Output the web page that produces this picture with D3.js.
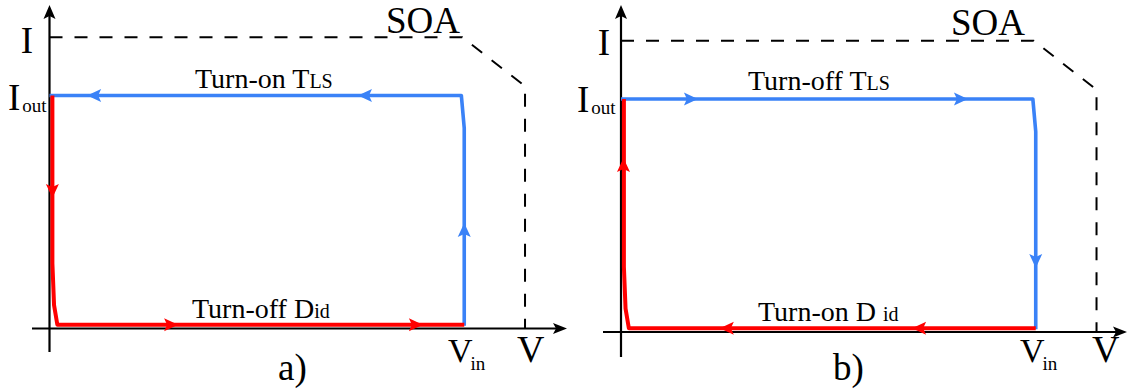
<!DOCTYPE html>
<html>
<head>
<meta charset="utf-8">
<script src="https://cdn.jsdelivr.net/npm/d3@7"></script>
<style>
  html, body { margin: 0; padding: 0; background: #fff; }
  svg { display: block; }
  text { font-family: "Liberation Serif", "DejaVu Serif", "Noto Serif", serif; fill: #000; }
</style>
</head>
<body>
<svg id="chart" width="1129" height="390"></svg>
<script>
// ---------------- data (normalised units: V_in = 100, I_out = 100) ----------------
const panelNames = ["a)", "b)"];
const vTicks = ["V_in", "V"];
const vTickValues = [100, 115];
const iTicks = ["I_out", "I"];
const iTickValues = [100, 125];

// SOA boundary
const soaV = [0, 99.8, 115, 115];
const soaI = [125, 125, 104, 0];

// transistor (blue) locus
const blueV = [0, 99.6, 100.3, 100.3];
const blueI = [100, 100, 86, 1.2];

// diode (red) locus
const redV = [0.7, 0.7, 1.1, 1.9, 100.3];
const redI = [100, 28, 10, 1.6, 1.6];

// arrows on the loci: [series, v, i, direction]
const arrowsA = [
  ["blue", 9.1, 100, "left"], ["blue", 74.6, 100, "left"], ["blue", 100.3, 45.3, "up"],
  ["red", 0.7, 56, "down"], ["red", 31.1, 1.6, "right"], ["red", 90.3, 1.6, "right"]
];
const arrowsB = [
  ["blue", 18.6, 100, "right"], ["blue", 83.9, 100, "right"], ["blue", 100.3, 27.5, "down"],
  ["red", 0.6, 74.7, "up"], ["red", 23.9, 1.6, "left"], ["red", 70.4, 1.6, "left"]
];
const topLabels = [["Turn-on T", "LS"], ["Turn-off T", "LS"]];
const bottomLabels = [["Turn-off D", "id"], ["Turn-on D ", "id"]];

// ---------------- layout ----------------
const COLORS = { blue: "#3a82f7", red: "#ff0000" };
const layout = [
  { ox: 49.5, oy: 328.5, xEnd: 567, xStart: 32, yTop: 5, yBot: 352,
    iLab: [33, 53], ioutLab: [8, 110], topLab: [195, 88], soaLab: [386, 33],
    botLab: [192, 318], vinLab: [448, 362], vLab: [517, 362], name: [278, 380] },
  { ox: 621, oy: 332, xEnd: 1127, xStart: 603, yTop: 5, yBot: 357,
    iLab: [610, 55], ioutLab: [577, 112], topLab: [748, 90], soaLab: [951, 35],
    botLab: [758, 321], vinLab: [1020, 362], vLab: [1092, 362], name: [833, 380] }
];
const arrowSets = [arrowsA, arrowsB];

const svg = d3.select("#chart");
const dirAngle = { right: 0, down: 90, left: 180, up: -90 };

function arrowHead(g, x, y, angle, color, len, w) {
  g.append("path")
    .attr("d", `M0,0 L${-len},${-w / 2} L${-len + 3},0 L${-len},${w / 2} Z`)
    .attr("transform", `translate(${x},${y}) rotate(${angle})`)
    .attr("fill", color);
}

layout.forEach((L, p) => {
  const g = svg.append("g");
  const x = d3.scaleLinear().domain([0, 100]).range([L.ox, L.ox + 413.5]);
  const y = d3.scaleLinear().domain([0, 100]).range([L.oy, L.oy - 233]);
  const line = d3.line().x(d => x(d[0])).y(d => y(d[1]));

  // axes
  g.append("line").attr("x1", L.xStart).attr("x2", L.xEnd - 8)
    .attr("y1", L.oy).attr("y2", L.oy).attr("stroke", "#000").attr("stroke-width", 2.2);
  g.append("line").attr("x1", L.ox).attr("x2", L.ox)
    .attr("y1", L.yBot).attr("y2", L.yTop + 8).attr("stroke", "#000").attr("stroke-width", 2.2);
  arrowHead(g, L.xEnd, L.oy, 0, "#000", 14, 11);
  arrowHead(g, L.ox, L.yTop, -90, "#000", 14, 12);

  // SOA boundary
  g.append("path").datum(d3.zip(soaV, soaI)).attr("d", line)
    .attr("fill", "none").attr("stroke", "#000").attr("stroke-width", 2)
    .attr("stroke-dasharray", "13,12");

  // loci
  g.append("path").datum(d3.zip(blueV, blueI)).attr("d", line)
    .attr("fill", "none").attr("stroke", COLORS.blue).attr("stroke-width", 3.6)
    .attr("stroke-linejoin", "round");
  g.append("path").datum(d3.zip(redV, redI)).attr("d", line)
    .attr("fill", "none").attr("stroke", COLORS.red).attr("stroke-width", 4)
    .attr("stroke-linejoin", "round");

  arrowSets[p].forEach(a => {
    arrowHead(g, x(a[1]), y(a[2]), dirAngle[a[3]], COLORS[a[0]], 14, 13);
  });

  // labels
  g.append("text").attr("x", L.iLab[0]).attr("y", L.iLab[1])
    .attr("text-anchor", "end").attr("font-size", 37).text(iTicks[1]);

  const io = g.append("text").attr("x", L.ioutLab[0]).attr("y", L.ioutLab[1]).attr("font-size", 37);
  io.append("tspan").text("I");
  io.append("tspan").attr("font-size", 19).attr("dx", 2).attr("dy", 2).text("out");

  const tl = g.append("text").attr("x", L.topLab[0]).attr("y", L.topLab[1]).attr("font-size", 28);
  tl.append("tspan").text(topLabels[p][0]);
  tl.append("tspan").attr("font-size", 20).text(topLabels[p][1]);

  g.append("text").attr("x", L.soaLab[0]).attr("y", L.soaLab[1]).attr("font-size", 37).text("SOA");

  const bl = g.append("text").attr("x", L.botLab[0]).attr("y", L.botLab[1]).attr("font-size", 28);
  bl.append("tspan").text(bottomLabels[p][0]);
  bl.append("tspan").attr("font-size", 20).text(bottomLabels[p][1]);

  const vin = g.append("text").attr("x", L.vinLab[0]).attr("y", L.vinLab[1]).attr("font-size", 34);
  vin.append("tspan").text("V");
  vin.append("tspan").attr("font-size", 19).attr("dx", -2).attr("dy", 8).text("in");

  g.append("text").attr("x", L.vLab[0]).attr("y", L.vLab[1]).attr("font-size", 38).text(vTicks[1]);

  g.append("text").attr("x", L.name[0]).attr("y", L.name[1]).attr("font-size", 37).text(panelNames[p]);
});
</script>
</body>
</html>
